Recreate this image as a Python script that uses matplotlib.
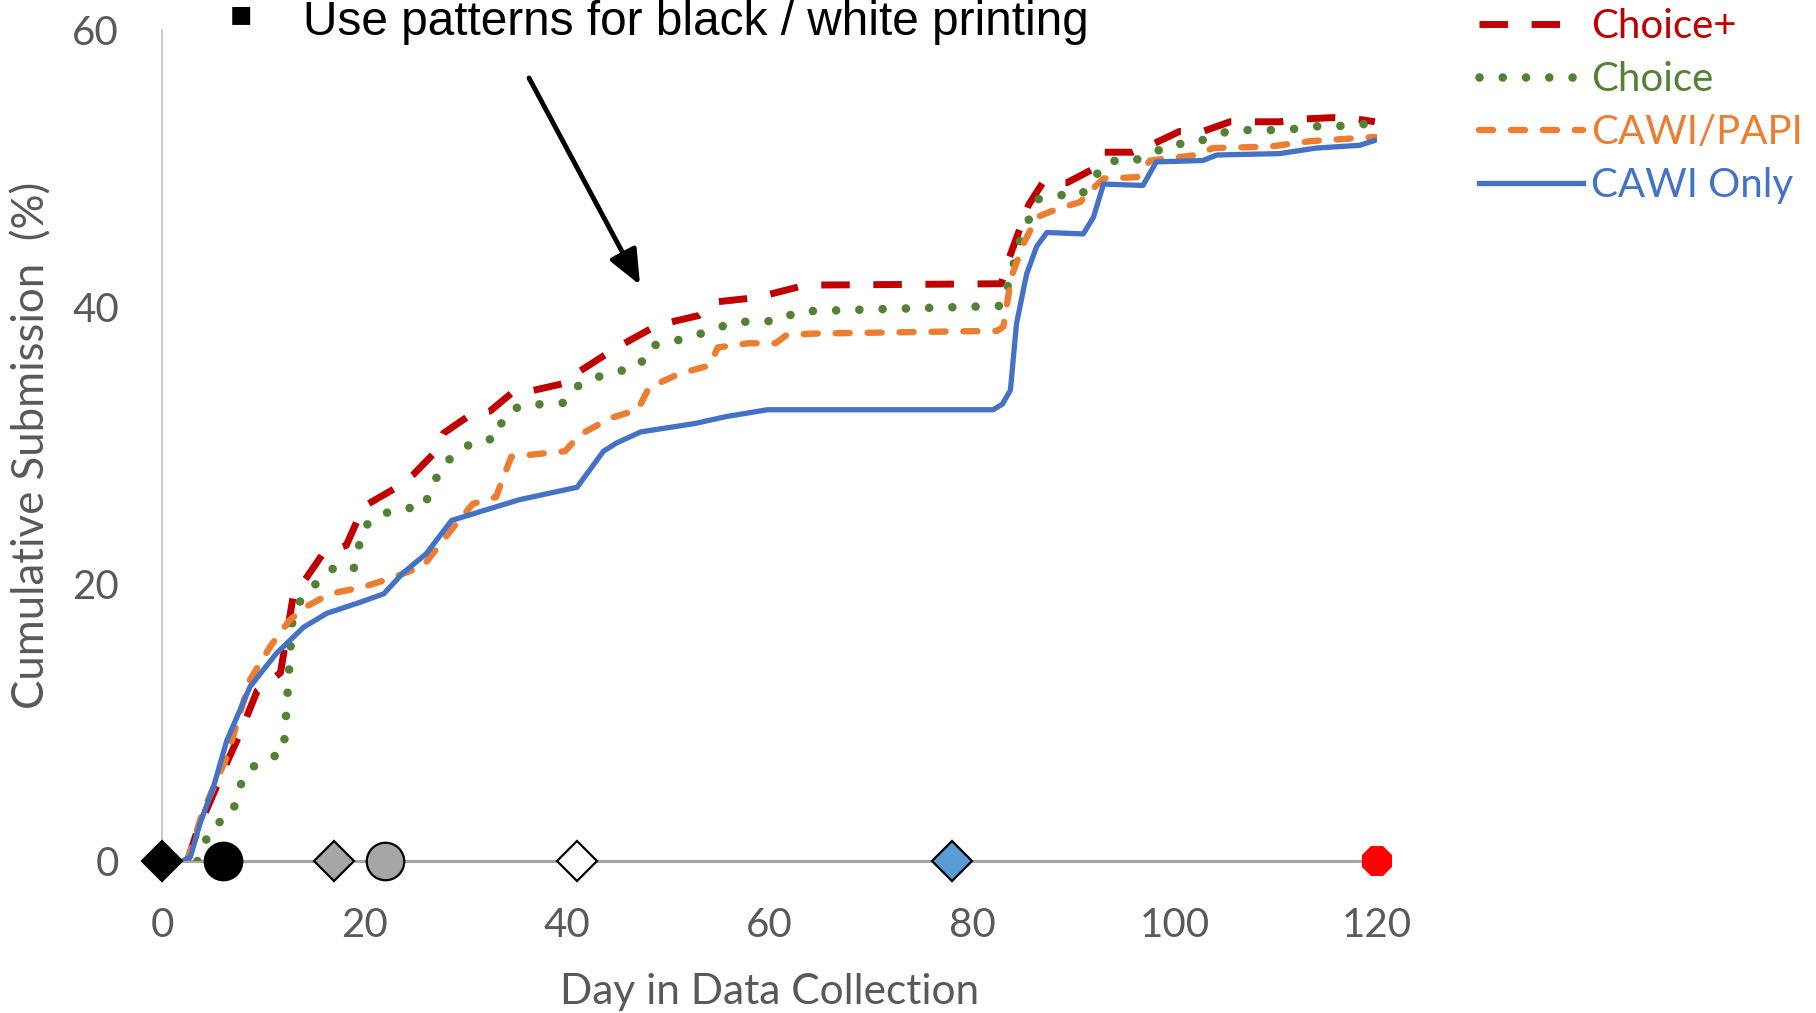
import matplotlib.pyplot as plt
from matplotlib.patches import FancyArrowPatch

plt.rcParams['font.family'] = ['Lato', 'DejaVu Sans']

# cumulative submission (%) by day of data collection, one array pair per arm
choice_plus_days = [2.5, 3.4, 6.4, 7.7, 9.4, 11.7, 13.0, 14.3, 15.9, 18.2, 19.9, 23.2, 24.8,
                    26.8, 27.8, 30.4, 32.4, 34.7, 36.7, 39.7, 41.3, 44.7, 48.9, 53.0, 54.9,
                    58.7, 63.6, 82.9, 83.6, 84.9, 85.6, 87.0, 89.4, 92.0, 93.0, 95.9, 97.9,
                    100.5, 102.8, 105.5, 110.4, 112.7, 115.7, 118.0, 119.8]
choice_plus_pct = [0, 2.0, 7.1, 9.2, 12.3, 13.6, 19.3, 20.5, 22.2, 22.8, 25.6, 27.0, 27.9,
                   29.4, 30.9, 32.2, 32.5, 33.9, 34.0, 34.5, 35.4, 37.0, 38.7, 39.4, 40.4,
                   40.7, 41.6, 41.7, 43.4, 46.0, 47.4, 49.0, 49.0, 50.0, 51.2, 51.2, 51.8,
                   52.7, 52.7, 53.4, 53.4, 53.6, 53.7, 53.6, 53.4]

choice_days = [3.5, 4.9, 6.9, 7.5, 8.2, 10.0, 12.0, 12.3, 12.6, 12.9, 13.8, 15.3, 16.8,
               18.9, 19.4, 19.9, 21.5, 23.7, 25.8, 26.7, 27.6, 29.3, 31.1, 33.1, 33.7,
               35.4, 37.5, 39.7, 41.2, 43.2, 45.3, 47.2, 48.2, 50.3, 52.4, 54.5, 56.4,
               58.6, 60.8, 62.8, 82.9, 83.6, 84.7, 85.6, 86.5, 88.5, 90.8, 92.1, 93.5,
               95.6, 97.6, 99.6, 101.9, 103.8, 105.8, 110.1, 112.2, 114.4, 116.7, 119.8]
choice_pct = [0, 2.5, 3.3, 4.9, 6.4, 7.3, 7.8, 11.0, 14.3, 17.6, 19.0, 20.1, 21.1,
              21.0, 22.6, 24.1, 25.0, 25.5, 25.5, 27.0, 28.5, 29.6, 30.4, 30.5, 32.1,
              32.9, 33.0, 33.1, 34.4, 35.0, 35.4, 35.8, 37.2, 37.5, 37.9, 38.4, 38.9,
              39.0, 39.0, 39.7, 40.1, 41.7, 44.7, 46.3, 47.8, 48.1, 48.1, 49.4, 50.6,
              50.5, 51.0, 51.8, 51.8, 52.4, 52.8, 52.8, 52.9, 53.1, 53.1, 53.3]

cawi_papi_days = [2.5, 4.0, 6.4, 8.7, 10.7, 12.6, 14.3, 16.6, 19.9, 22.5, 25.8, 27.8, 29.1,
                  30.7, 33.0, 33.7, 34.5, 37.1, 39.8, 41.3, 44.3, 47.0, 48.1, 51.1, 54.1,
                  54.9, 57.9, 60.6, 61.7, 64.4, 82.5, 83.1, 83.9, 85.1, 86.4, 88.4, 90.7,
                  91.7, 93.0, 96.3, 97.6, 102.2, 103.8, 109.4, 113.4, 119.8]
cawi_papi_pct = [0, 3.5, 7.5, 13.1, 15.5, 17.4, 18.4, 19.3, 19.8, 20.4, 21.3, 23.2, 24.4,
                 25.8, 26.3, 27.7, 29.2, 29.4, 29.6, 30.8, 32.0, 32.6, 34.2, 35.2, 35.8,
                 37.1, 37.4, 37.4, 38.0, 38.1, 38.3, 38.6, 42.2, 44.6, 46.5, 47.1, 47.6,
                 48.4, 49.3, 49.4, 50.6, 51.0, 51.5, 51.6, 52.0, 52.3]

cawi_only_days = [2.0, 2.8, 3.75, 5.1, 6.4, 8.7, 11.3, 14.0, 16.3, 19.2, 21.9, 23.8, 26.1,
                  28.6, 31.7, 35.3, 41.0, 43.6, 44.9, 47.3, 52.6, 55.7, 59.8, 82.1, 83.0,
                  83.8, 84.4, 85.4, 86.4, 87.4, 91.0, 92.0, 93.0, 96.9, 98.2, 102.8, 104.2,
                  110.4, 114.0, 118.3, 120.0]
cawi_only_pct = [0, 0.3, 2.7, 5.4, 8.7, 12.6, 15.0, 16.9, 17.9, 18.6, 19.3, 20.8, 22.2,
                 24.6, 25.3, 26.1, 27.0, 29.6, 30.2, 31.0, 31.6, 32.1, 32.6, 32.6, 33.0,
                 34.0, 38.8, 42.4, 44.4, 45.4, 45.3, 46.5, 48.9, 48.8, 50.5, 50.6, 51.0,
                 51.1, 51.5, 51.7, 52.1]

# mailing / contact milestones along the day axis
milestone_days = [0, 6, 17, 22, 41, 78, 120]

x_ticks = [0, 20, 40, 60, 80, 100, 120]
y_ticks = [0, 20, 40, 60]

GREY_TXT = '#595959'

fig = plt.figure(figsize=(18.16, 10.13), dpi=100)
ax = fig.add_axes([0.0892, 0.150, 0.669, 0.820])

ax.plot(choice_plus_days, choice_plus_pct, color='#c00000', lw=5.0,
        dashes=(4.1, 3.4), dash_capstyle='butt', label='Choice+', zorder=3)
ax.plot(choice_days, choice_pct, color='#548235', lw=6.2,
        dashes=(0.001, 2.7), dash_capstyle='round', label='Choice', zorder=3)
ax.plot(cawi_papi_days, cawi_papi_pct, color='#ed7d31', lw=4.6,
        dashes=(2.2, 2.8), dash_capstyle='round', label='CAWI/PAPI', zorder=3)
ax.plot(cawi_only_days, cawi_only_pct, color='#4472c4', lw=3.8,
        solid_joinstyle='round', label='CAWI Only', zorder=3)

marker_styles = [('D', 'black', 20), ('o', 'black', 27), ('D', '#a6a6a6', 20),
                 ('o', '#a6a6a6', 27), ('D', 'white', 20), ('D', '#5b9bd5', 20),
                 ('8', '#ff0000', 23)]
for day, (shape, face, size) in zip(milestone_days, marker_styles):
    edge = 'none' if shape == '8' else 'black'
    ax.plot([day], [0], marker=shape, ms=size, mfc=face, mec=edge, mew=1.6,
            ls='none', clip_on=False, zorder=5)

ax.set_xlim(0, 120)
ax.set_ylim(0, 60)
ax.set_xticks(x_ticks)
ax.set_yticks(y_ticks)
ax.tick_params(length=0, labelsize=29, labelcolor=GREY_TXT)
ax.tick_params(axis='y', pad=31)
ax.tick_params(axis='x', pad=33)

for side in ('top', 'right'):
    ax.spines[side].set_visible(False)
ax.spines['left'].set_color('#bfbfbf')
ax.spines['left'].set_linewidth(1.2)
ax.spines['bottom'].set_color('#a6a6a6')
ax.spines['bottom'].set_linewidth(2.2)

ax.set_ylabel('Cumulative Submission  (%)', fontsize=31.5, color=GREY_TXT, va='center')
ax.yaxis.set_label_coords(-0.107, 0.5)
ax.set_xlabel('Day in Data Collection', fontsize=30.5, color=GREY_TXT, va='center')
ax.xaxis.set_label_coords(0.5, -0.158)

ax.legend(loc='upper left', bbox_to_anchor=(1479 / 1816, 0.992),
          bbox_transform=fig.transFigure, frameon=False, fontsize=29,
          handlelength=2.58, handletextpad=0.2, labelspacing=0.4,
          borderpad=0, borderaxespad=0, labelcolor='linecolor')

# slide note and pointer
fig.text(241 / 1816, 1 - 14 / 1013, '\u25aa', family='DejaVu Sans', fontsize=26,
         ha='center', va='center', color='black')
fig.text(303 / 1816, 1 - 35 / 1013, 'Use patterns for black / white printing',
         family='Liberation Sans', fontsize=34.4, va='baseline', color='black')
arrow = FancyArrowPatch((529 / 1816, 1 - 78 / 1013), (640 / 1816, 1 - 285 / 1013),
                        transform=fig.transFigure, color='black', lw=3.5,
                        arrowstyle='-|>,head_length=0.75,head_width=0.32',
                        mutation_scale=28, shrinkA=0, shrinkB=0)
fig.add_artist(arrow)

fig.savefig('out.png', dpi=100)
